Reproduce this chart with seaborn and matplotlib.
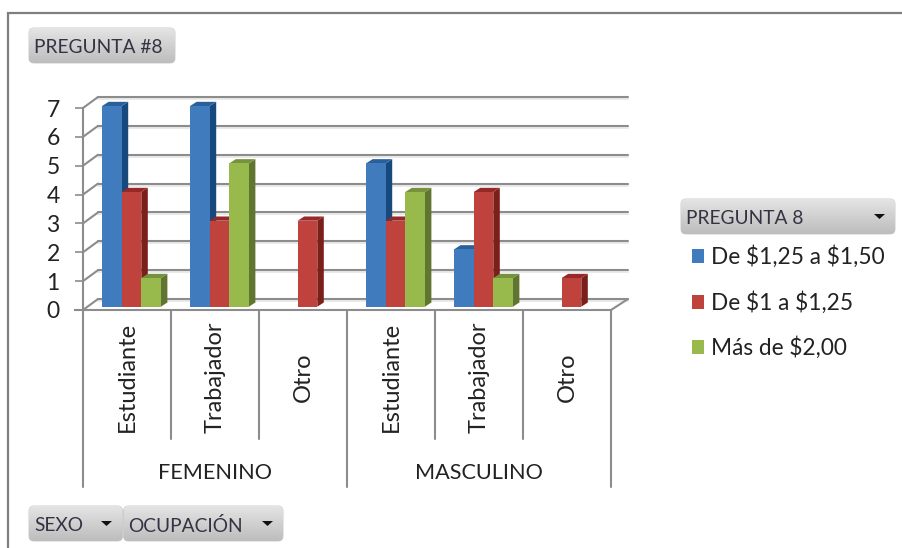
import numpy as np
import pandas as pd
import matplotlib
matplotlib.use("Agg")
import matplotlib.pyplot as plt
import seaborn as sns
from matplotlib.patches import FancyBboxPatch, Polygon
from matplotlib.lines import Line2D
from matplotlib.transforms import IdentityTransform
import matplotlib.patheffects as pe

sexos = ["FEMENINO", "MASCULINO"]
ocupaciones = ["Estudiante", "Trabajador", "Otro"]
precios = ["De $1,25 a $1,50", "De $1 a $1,25", "Más de $2,00"]
v_alto = [7, 7, np.nan, 5, 2, np.nan]
v_medio = [4, 3, 3, 3, 4, 1]
v_mas = [1, 5, np.nan, 4, 1, np.nan]
yticks = [0, 1, 2, 3, 4, 5, 6, 7]

front_col = ["#3f7bbd", "#bf423c", "#98b94c"]
side_col = ["#17497c", "#7a1f1a", "#5f7530"]
top_col = ["#2a6099", "#96282a", "#76923c"]
GRID = "#8c8c8c"
TXT = "#222222"

W, H = 902, 548
sns.set_theme(style="white")
plt.rcParams["font.family"] = ["Lato", "DejaVu Sans"]

fig = plt.figure(figsize=(W / 100, H / 100), dpi=100, facecolor="white")


def axes_px(x0, x1, ytop, ybot, **kw):
    return fig.add_axes([x0 / W, 1 - ybot / H, (x1 - x0) / W, (ybot - ytop) / H], **kw)


rows = []
cats = [f"{s}|{o}" for s in sexos for o in ocupaciones]
for p, vals in zip(precios, [v_alto, v_medio, v_mas]):
    for c, v in zip(cats, vals):
        rows.append({"cat": c, "precio": p, "valor": v})
df = pd.DataFrame(rows)

# back wall gridlines
ax_grid = axes_px(98, 628, 97, 299, zorder=1)
ax_grid.set_ylim(0, 7)
ax_grid.set_xlim(0, 1)
ax_grid.set_yticks(yticks)
ax_grid.set_xticks([])
ax_grid.tick_params(left=False, labelleft=False)
ax_grid.grid(axis="y", color=GRID, lw=1.5)
for gl in ax_grid.get_ygridlines():
    gl.set_clip_on(False)
    gl.set_path_effects([pe.SimpleLineShadow(offset=(0, -1.4), shadow_color="#cccccc", alpha=0.4), pe.Normal()])
sns.despine(ax=ax_grid, left=True, bottom=True)

# front axes: ticks and labels
ax = axes_px(83, 611, 108, 310, zorder=2)
ax.patch.set_alpha(0)
ax.set_ylim(0, 7)
ax.set_xlim(-0.5, len(cats) - 0.5)
ax.set_yticks(yticks)
ax.set_yticklabels([str(t) for t in yticks], fontsize=16.5, color=TXT)
ax.tick_params(axis="y", left=True, length=5.8, width=1.2, color=GRID, pad=11)
ax.set_xticks(range(len(cats)))
ax.set_xticklabels([c.split("|")[1] for c in cats], rotation=90, fontsize=17, color=TXT, va="center", ha="center")
ax.tick_params(axis="x", bottom=False, pad=42.5)
for s in ["top", "right"]:
    ax.spines[s].set_visible(False)
for s in ["left", "bottom"]:
    ax.spines[s].set_color(GRID)
    ax.spines[s].set_linewidth(1.5)
ax.spines["bottom"].set_bounds(-0.5 - 8 / 88, len(cats) - 0.5)

# depth lines from the front axis to the back wall
ident = IdentityTransform()
for t in yticks:
    a = ax.transData.transform((-0.5, t))
    b = ax_grid.transData.transform((0, t))
    ax.add_line(Line2D([a[0], b[0]], [a[1], b[1]], color=GRID, lw=1.5, transform=ident, clip_on=False))
a = ax.transData.transform((len(cats) - 0.5, 0))
b = ax_grid.transData.transform((1, 0))
ax.add_line(Line2D([a[0], b[0]], [a[1], b[1]], color=GRID, lw=1.5, transform=ident, clip_on=False))

# category separators under the floor
xt = ax.get_xaxis_transform()
drop_minor = -129 / 202
drop_major = -177 / 202
n = len(ocupaciones)
for i in range(len(cats) + 1):
    major = i % n == 0
    ax.add_line(Line2D([i - 0.5, i - 0.5], [0, drop_major if major else drop_minor], color=GRID,
                       lw=1.5, transform=xt, clip_on=False))
for i, s in enumerate(sexos):
    ax.text(n * i + (n - 1) / 2, -163 / 202, s, transform=xt, ha="center", va="center",
            fontsize=15.6, color=TXT)

# bars
ax_bars = axes_px(87.5, 615.5, 106, 306.7, zorder=3)
ax_bars.patch.set_alpha(0)
sns.barplot(data=df, x="cat", y="valor", hue="precio", order=cats, hue_order=precios,
            palette=front_col, width=0.668, gap=0, linewidth=0, saturation=1, ax=ax_bars, errorbar=None)
ax_bars.set_ylim(0, 7)
ax_bars.set_xlim(-0.5, len(cats) - 0.5)
ax_bars.axis("off")
handles, labels = ax_bars.get_legend_handles_labels()
ax_bars.get_legend().remove()

DX, DY = 6.5, 4.2
bars = []
for k, cont in enumerate(ax_bars.containers):
    for patch in cont:
        if np.isfinite(patch.get_height()) and patch.get_height() > 0:
            bars.append((patch.get_x(), k, patch))
bars.sort(key=lambda b: b[0])
z = 10
for _, k, patch in bars:
    (x0, y0) = ax_bars.transData.transform((patch.get_x(), 0))
    (x1, y1) = ax_bars.transData.transform((patch.get_x() + patch.get_width(), patch.get_height()))
    ax_bars.add_patch(Polygon([(x1, y0), (x1 + DX, y0 + DY), (x1 + DX, y1 + DY), (x1, y1)],
                              closed=True, fc=side_col[k], ec="none", transform=ident, zorder=z, clip_on=False))
    ax_bars.add_patch(Polygon([(x0, y1), (x0 + DX, y1 + DY), (x1 + DX, y1 + DY), (x1, y1)],
                              closed=True, fc=top_col[k], ec="none", transform=ident, zorder=z, clip_on=False))
    patch.set_zorder(z + 1)
    z += 2

# overlay for frame and field buttons
ov = fig.add_axes([0, 0, 1, 1], zorder=5)
ov.patch.set_alpha(0)
ov.axis("off")
ov.set_xlim(0, W)
ov.set_ylim(H, 0)
ov.plot([8, 8, W], [H, 13, 13], color="#7f7f7f", lw=1.6, solid_joinstyle="miter")

grad = np.linspace(0, 1, 64).reshape(-1, 1)
cmap = matplotlib.colors.LinearSegmentedColormap.from_list("b", ["#e4e4e4", "#bdbdbd"])


def button(x0, x1, y0, y1, text, arrow_x=None, fs=13.8):
    box = FancyBboxPatch((x0 + 4, y0 + 4), x1 - x0 - 8, y1 - y0 - 8,
                         boxstyle="round,pad=4,rounding_size=5", fc="none", ec="#c4c4c4", lw=0.6)
    ov.add_patch(box)
    im = ov.imshow(grad, extent=(x0, x1, y1, y0), cmap=cmap, aspect="auto", zorder=1, vmin=0, vmax=1)
    im.set_clip_path(box)
    ov.text(x0 + 5, (y0 + y1) / 2 + 2, text, ha="left", va="center", fontsize=fs, color="#333344", zorder=3)
    if arrow_x is not None:
        ym = (y0 + y1) / 2
        ov.add_patch(Polygon([(arrow_x, ym - 2.5), (arrow_x + 11, ym - 2.5), (arrow_x + 5.5, ym + 2.5)],
                             closed=True, fc="#111111", ec="none", zorder=3))


button(29, 175, 28, 63, "PREGUNTA #8")
button(681, 895, 199, 234, "PREGUNTA 8", arrow_x=874)
button(29, 122.5, 506, 541, "SEXO", arrow_x=101)
button(123.5, 283, 506, 541, "OCUPACIÓN", arrow_x=262)
ov.set_xlim(0, W)
ov.set_ylim(H, 0)

leg = fig.legend(handles, labels, loc="upper left", bbox_to_anchor=(687.5 / W, 1 - 241 / H), frameon=False,
                 fontsize=16.3, labelcolor=TXT, handlelength=0.55, handleheight=0.55, handletextpad=0.3,
                 labelspacing=1.01, borderpad=0.2, borderaxespad=0)
for t in leg.get_texts():
    t.set_parse_math(False)

fig.savefig("out.png", dpi=100, facecolor="white")
